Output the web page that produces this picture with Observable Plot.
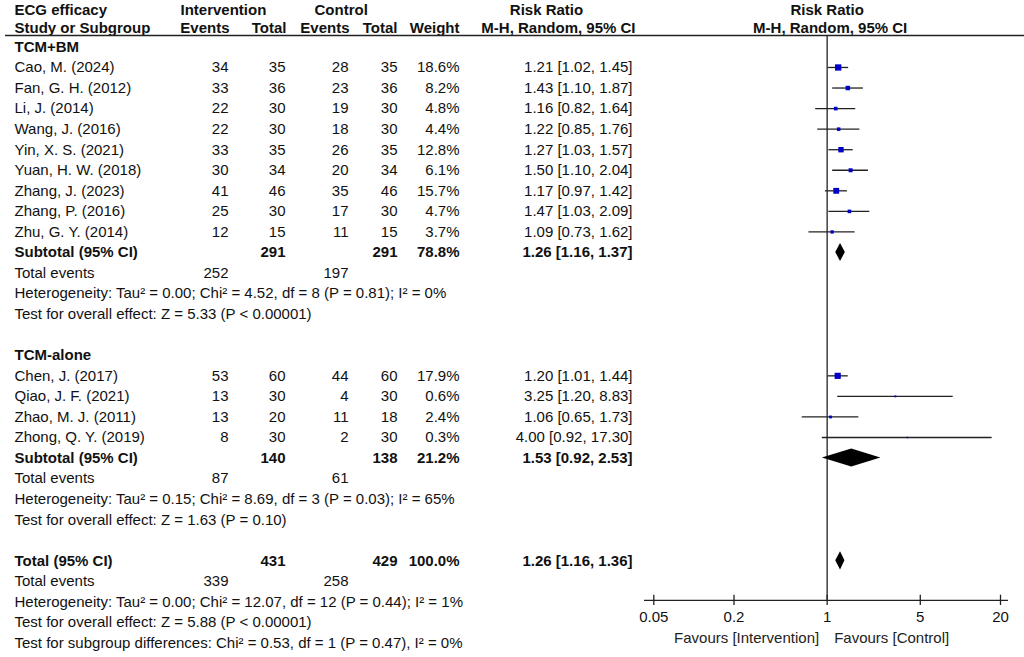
<!DOCTYPE html>
<html><head><meta charset="utf-8">
<script src="https://cdn.jsdelivr.net/npm/d3@7"></script>
<script src="https://cdn.jsdelivr.net/npm/@observablehq/plot@0.6"></script>
<style>body{margin:0;background:#fff}#chart{width:1024px;height:657px}</style>
</head><body><div id="chart"></div>
<script>
// ---------- data ----------
const headerTitle = "ECG efficacy";
const groupNames = ["TCM+BM", "TCM-alone"];
const studies = ["Cao, M. (2024)", "Fan, G. H. (2012)", "Li, J. (2014)", "Wang, J. (2016)", "Yin, X. S. (2021)", "Yuan, H. W. (2018)", "Zhang, J. (2023)", "Zhang, P. (2016)", "Zhu, G. Y. (2014)", "Chen, J. (2017)", "Qiao, J. F. (2021)", "Zhao, M. J. (2011)", "Zhong, Q. Y. (2019)"];
const studyGroup = ["TCM+BM","TCM+BM","TCM+BM","TCM+BM","TCM+BM","TCM+BM","TCM+BM","TCM+BM","TCM+BM","TCM-alone","TCM-alone","TCM-alone","TCM-alone"];
const intEvents = [34, 33, 22, 22, 33, 30, 41, 25, 12, 53, 13, 13, 8];
const intTotal  = [35, 36, 30, 30, 35, 34, 46, 30, 15, 60, 30, 20, 30];
const ctlEvents = [28, 23, 19, 18, 26, 20, 35, 17, 11, 44, 4, 11, 2];
const ctlTotal  = [35, 36, 30, 30, 35, 34, 46, 30, 15, 60, 30, 18, 30];
const weights   = [18.6, 8.2, 4.8, 4.4, 12.8, 6.1, 15.7, 4.7, 3.7, 17.9, 0.6, 2.4, 0.3];
const riskRatio = [1.21, 1.43, 1.16, 1.22, 1.27, 1.50, 1.17, 1.47, 1.09, 1.20, 3.25, 1.06, 4.00];
const ciLow     = [1.02, 1.10, 0.82, 0.85, 1.03, 1.10, 0.97, 1.03, 0.73, 1.01, 1.20, 0.65, 0.92];
const ciHigh    = [1.45, 1.87, 1.64, 1.76, 1.57, 2.04, 1.42, 2.09, 1.62, 1.44, 8.83, 1.73, 17.30];

const summaryLabels    = ["Subtotal (95% CI)", "Subtotal (95% CI)", "Total (95% CI)"];
const summaryIntTotal  = [291, 140, 431];
const summaryCtlTotal  = [291, 138, 429];
const summaryWeight    = [78.8, 21.2, 100.0];
const summaryRR        = [1.26, 1.53, 1.26];
const summaryLow       = [1.16, 0.92, 1.16];
const summaryHigh      = [1.37, 2.53, 1.36];
const summaryIntEvents = [252, 87, 339];
const summaryCtlEvents = [197, 61, 258];
const heterogeneity = [
  "Heterogeneity: Tau\u00b2 = 0.00; Chi\u00b2 = 4.52, df = 8 (P = 0.81); I\u00b2 = 0%",
  "Heterogeneity: Tau\u00b2 = 0.15; Chi\u00b2 = 8.69, df = 3 (P = 0.03); I\u00b2 = 65%",
  "Heterogeneity: Tau\u00b2 = 0.00; Chi\u00b2 = 12.07, df = 12 (P = 0.44); I\u00b2 = 1%"
];
const overallEffect = [
  "Test for overall effect: Z = 5.33 (P < 0.00001)",
  "Test for overall effect: Z = 1.63 (P = 0.10)",
  "Test for overall effect: Z = 5.88 (P < 0.00001)"
];
const subgroupTest = "Test for subgroup differences: Chi\u00b2 = 0.53, df = 1 (P = 0.47), I\u00b2 = 0%";
const axisTicks = [0.05, 0.2, 1, 5, 20];
const tickLabels = ["0.05", "0.2", "1", "5", "20"];
const favourLabels = ["Favours [Intervention]", "Favours [Control]"];
const colHeads1 = ["Intervention", "Control", "Risk Ratio"];
const colHeads2 = ["Study or Subgroup", "Events", "Total", "Events", "Total", "Weight", "M-H, Random, 95% CI"];

// ---------- build table rows ----------
const f2 = v => v.toFixed(2);
const ciText = (e, l, h) => `${f2(e)} [${f2(l)}, ${f2(h)}]`;
const tableRows = [], studyRows = [], summaryRows = [];
let r = 0;
function addSummary(i) {
  const s = {row: r++, bold: true, name: summaryLabels[i], it: summaryIntTotal[i], ct: summaryCtlTotal[i],
    w: summaryWeight[i].toFixed(1) + "%", rr: ciText(summaryRR[i], summaryLow[i], summaryHigh[i]),
    est: summaryRR[i], lo: summaryLow[i], hi: summaryHigh[i], id: i};
  tableRows.push(s); summaryRows.push(s);
  tableRows.push({row: r++, name: "Total events", ie: summaryIntEvents[i], ce: summaryCtlEvents[i]});
  tableRows.push({row: r++, name: heterogeneity[i]});
  tableRows.push({row: r++, name: overallEffect[i]});
}
groupNames.forEach((g, gi) => {
  tableRows.push({row: r++, name: g, bold: true});
  studies.forEach((s, i) => {
    if (studyGroup[i] !== g) return;
    const d = {row: r++, name: s, ie: intEvents[i], it: intTotal[i], ce: ctlEvents[i], ct: ctlTotal[i],
      w: weights[i].toFixed(1) + "%", weight: weights[i], rr: ciText(riskRatio[i], ciLow[i], ciHigh[i]),
      est: riskRatio[i], lo: ciLow[i], hi: ciHigh[i]};
    tableRows.push(d); studyRows.push(d);
  });
  addSummary(gi);
  r++;
});
addSummary(2);
tableRows.push({row: r++, name: subgroupTest});

const diamondPts = summaryRows.flatMap(s => [
  {x: s.lo, y1: s.row, y2: s.row, z: s.id},
  {x: s.est, y1: s.row - 0.44, y2: s.row + 0.44, z: s.id},
  {x: s.hi, y1: s.row, y2: s.row, z: s.id}
]);

// ---------- layout ----------
const W = 1024, H = 657;
const mL = 644, mR = 16, inL = 9.3, inR = 8;
const rowHead1 = -1.77, rowHead2 = -0.9, rowRule = -0.55, rowAxis = 26.92, rowTickLab = 27.72, rowFav = 28.74;
const ink = "#111";
const xs = Plot.scale({x: {type: "log", domain: [0.05, 20], range: [mL + inL, W - mR - inR]}});

function col(key, px, anchor) {
  return [false, true].map(b => Plot.text(tableRows.filter(d => !!d.bold === b && d[key] != null), {
    y: "row", text: key, frameAnchor: "left", dx: px - mL, textAnchor: anchor,
    fontWeight: b ? "bold" : "normal", fill: ink
  }));
}
function label(text, row, px, anchor) {
  return Plot.text([text], {text: d => d, y: () => row, frameAnchor: "left", dx: px - mL,
    textAnchor: anchor, fontWeight: "bold", fill: ink});
}

const chart = Plot.plot({
  width: W, height: H,
  marginLeft: mL, marginRight: mR, insetLeft: inL, insetRight: inR,
  marginTop: 5.3, marginBottom: 14.4,
  style: {fontFamily: "'Liberation Sans', Arial, sans-serif", fontSize: "15px", background: "#fff", overflow: "visible"},
  x: {type: "log", domain: [0.05, 20], axis: null},
  y: {domain: [-2, 29], reverse: true, axis: null},
  r: {type: "sqrt", domain: [0, 18.6], range: [0.5, 3.55]},
  marks: [
    // header
    label(headerTitle, rowHead1, 14, "start"),
    label(colHeads1[0], rowHead1, 180, "start"),
    label(colHeads1[1], rowHead1, 314, "start"),
    label(colHeads1[2], rowHead1, 546, "middle"),
    Plot.text([colHeads1[2]], {text: d => d, x: () => 1, y: () => rowHead1, fontWeight: "bold", fill: ink}),
    label(colHeads2[0], rowHead2, 14, "start"),
    label(colHeads2[1], rowHead2, 229, "end"),
    label(colHeads2[2], rowHead2, 286, "end"),
    label(colHeads2[3], rowHead2, 349, "end"),
    label(colHeads2[4], rowHead2, 397, "end"),
    label(colHeads2[5], rowHead2, 459, "end"),
    label(colHeads2[6], rowHead2, 635, "end"),
    Plot.text([colHeads2[6]], {text: d => d, x: () => 1, dx: 3, y: () => rowHead2, fontWeight: "bold", fill: ink}),
    Plot.ruleY([rowRule], {x1: xs.invert(5), x2: xs.invert(W), stroke: "#222", strokeWidth: 1.5}),
    // table columns
    ...col("name", 14, "start"),
    ...col("ie", 228, "end"),
    ...col("it", 285, "end"),
    ...col("ce", 348, "end"),
    ...col("ct", 397, "end"),
    ...col("w", 459, "end"),
    ...col("rr", 632, "end"),
    // forest
    Plot.ruleX([1], {y1: rowRule, y2: rowAxis, stroke: "#222", strokeWidth: 1.3}),
    Plot.ruleY(studyRows, {y: "row", x1: "lo", x2: "hi", stroke: "#222", strokeWidth: 1.3}),
    Plot.dot(studyRows, {x: "est", y: "row", r: "weight", symbol: "square", fill: "#0000c8", stroke: "none"}),
    Plot.areaY(diamondPts, {x: "x", y1: "y1", y2: "y2", z: "z", fill: "#000", curve: "linear"}),
    // axis
    Plot.ruleY([rowAxis], {stroke: "#222", strokeWidth: 1.3}),
    Plot.ruleX(axisTicks, {x: d => d, y1: rowAxis - 0.25, y2: rowAxis + 0.25, stroke: "#222", strokeWidth: 1.3}),
    Plot.text(axisTicks, {x: d => d, y: () => rowTickLab, text: (d, i) => tickLabels[i], fill: ink}),
    Plot.text([favourLabels[0]], {text: d => d, x: () => 1, y: () => rowFav, dx: -8, textAnchor: "end", fill: "#222"}),
    Plot.text([favourLabels[1]], {text: d => d, x: () => 1, y: () => rowFav, dx: 7, textAnchor: "start", fill: "#222"})
  ]
});
document.getElementById("chart").append(chart);
</script>
</body></html>
